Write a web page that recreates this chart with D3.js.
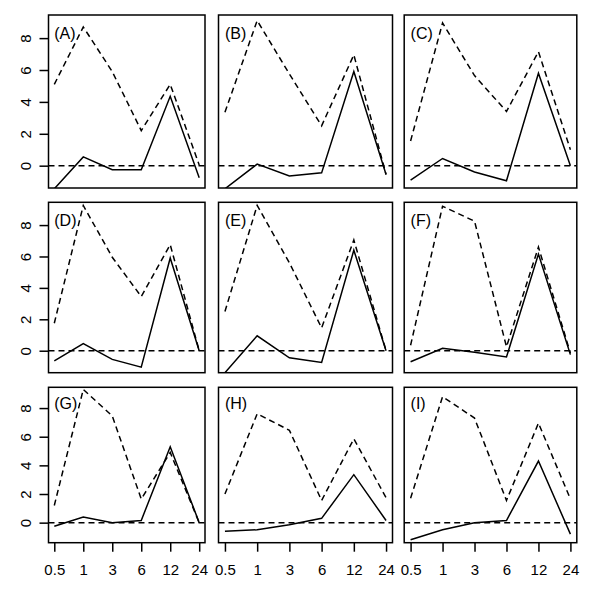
<!DOCTYPE html>
<html>
<head>
<meta charset="utf-8">
<script src="https://d3js.org/d3.v7.min.js"></script>
<style>
  body { margin: 0; background: #fff; }
  svg text { font-family: "Liberation Sans", Arial, sans-serif; font-size: 15px; fill: #000; }
</style>
</head>
<body>
<svg width="600" height="603"></svg>
<script>
// sampling times (hours), shown as evenly spaced categories
const timeLabels = ["0.5", "1", "3", "6", "12", "24"];
const panelLabels = ["(A)", "(B)", "(C)", "(D)", "(E)", "(F)", "(G)", "(H)", "(I)"];
const yTicks = [0, 2, 4, 6, 8];

// dashed curve, one row per panel
const dashedSeries = [
  [5.1, 8.7, 5.9, 2.2, 5.1, 0.05],
  [3.35, 9.1, 5.75, 2.5, 6.95, -0.55],
  [1.55, 8.95, 5.65, 3.4, 7.15, 1.0],
  [1.75, 9.25, 5.95, 3.45, 6.75, 0.0],
  [2.5, 9.25, 5.6, 1.45, 7.05, 0.0],
  [0.35, 9.2, 8.25, 0.25, 6.6, -0.15],
  [1.2, 9.3, 7.45, 1.65, 4.9, 0.0],
  [2.0, 7.6, 6.45, 1.55, 5.85, 1.75],
  [1.7, 8.8, 7.3, 1.55, 6.95, 1.65]
];

// solid curve, one row per panel
const solidSeries = [
  [-1.45, 0.55, -0.25, -0.25, 4.35, -0.75],
  [-1.45, 0.1, -0.65, -0.45, 5.9, -0.55],
  [-0.9, 0.45, -0.4, -0.95, 5.8, 0.0],
  [-0.65, 0.45, -0.55, -1.05, 5.9, 0.0],
  [-1.4, 0.95, -0.45, -0.75, 6.4, 0.0],
  [-0.7, 0.15, -0.1, -0.4, 6.15, -0.25],
  [-0.25, 0.4, 0.0, 0.15, 5.3, 0.0],
  [-0.6, -0.5, -0.15, 0.3, 3.35, 0.15],
  [-1.2, -0.5, 0.0, 0.15, 4.3, -0.8]
];

const svg = d3.select("svg");
svg.append("rect").attr("width", 600).attr("height", 603).attr("fill", "#fff");

// plot boxes (first column / last row are narrower because of the axes)
const colEdges = [[48.5, 205], [218.5, 392.5], [404.2, 576.8]];
const rowEdges = [[15, 188], [202.3, 372.7], [387.3, 542.7]];
const lw = 1.5;
const dash = "6,4";
const fontCss = "Liberation Sans, Arial, sans-serif";

panelLabels.forEach((lab, i) => {
  const r = Math.floor(i / 3), c = i % 3;
  const [x0, x1] = colEdges[c];
  const [y0, y1] = rowEdges[r];

  const x = d3.scalePoint().domain(timeLabels).range([x0, x1]).padding(0.2);
  const y = d3.scaleLinear().domain([-1.4, 9.45]).range([y1, y0]);

  const clipId = "clip" + i;
  svg.append("clipPath").attr("id", clipId)
    .append("rect").attr("x", x0).attr("y", y0).attr("width", x1 - x0).attr("height", y1 - y0);

  const g = svg.append("g");
  const plot = g.append("g").attr("clip-path", "url(#" + clipId + ")");

  const line = d3.line().x((d, k) => x(timeLabels[k])).y(d => y(d));

  // reference line at zero
  plot.append("line")
    .attr("x1", x0).attr("x2", x1)
    .attr("y1", y(0)).attr("y2", y(0))
    .attr("stroke", "#000").attr("stroke-width", lw).attr("stroke-dasharray", dash);

  plot.append("path").datum(dashedSeries[i])
    .attr("d", line).attr("fill", "none")
    .attr("stroke", "#000").attr("stroke-width", lw).attr("stroke-dasharray", dash);

  plot.append("path").datum(solidSeries[i])
    .attr("d", line).attr("fill", "none")
    .attr("stroke", "#000").attr("stroke-width", lw);

  g.append("text")
    .attr("x", x(timeLabels[0])).attr("y", y(8.3))
    .attr("dominant-baseline", "central")
    .style("font-size", "16px")
    .text(lab);

  g.append("rect")
    .attr("x", x0).attr("y", y0).attr("width", x1 - x0).attr("height", y1 - y0)
    .attr("fill", "none").attr("stroke", "#000").attr("stroke-width", lw);

  if (c === 0) {
    const ya = g.append("g").attr("transform", "translate(" + x0 + ",0)")
      .call(d3.axisLeft(y).tickValues(yTicks).tickSize(9).tickFormat(d3.format("d")));
    ya.select(".domain").remove();
    ya.selectAll("line").attr("stroke-width", lw);
    ya.selectAll("text")
      .attr("x", 0).attr("dy", null)
      .attr("text-anchor", "middle")
      .attr("transform", "translate(-17.5,0) rotate(-90)")
      .style("font-size", "15px").style("font-family", fontCss);
  }

  if (r === 2) {
    const xa = g.append("g").attr("transform", "translate(0," + y1 + ")")
      .call(d3.axisBottom(x).tickSize(9));
    xa.select(".domain").remove();
    xa.selectAll("line").attr("stroke-width", lw);
    xa.selectAll("text")
      .attr("y", 32).attr("dy", null)
      .style("font-size", "15px").style("font-family", fontCss);
  }
});
</script>
</body>
</html>
